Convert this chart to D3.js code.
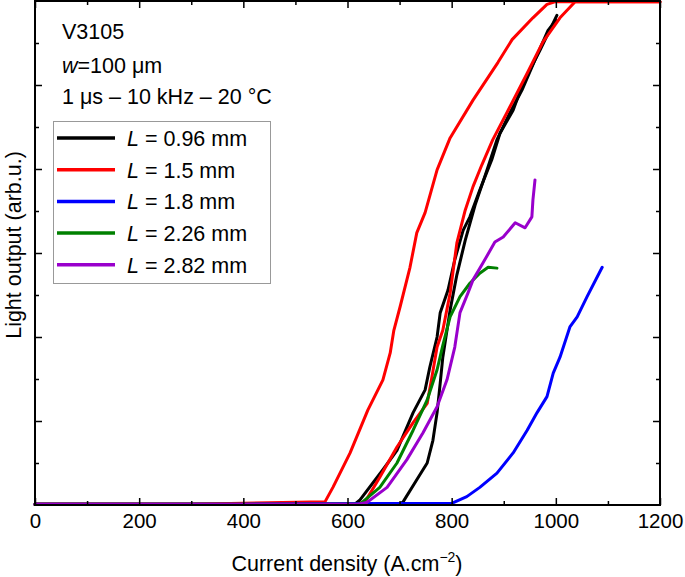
<!DOCTYPE html>
<html>
<head>
<meta charset="utf-8">
<script src="https://cdn.jsdelivr.net/npm/d3@7"></script>
<style>
  body { margin: 0; background: #fff; }
  text { font-family: "Liberation Sans", Arial, sans-serif; fill: #000; }
</style>
</head>
<body>
<div class="chart-area"></div>
<script>
// current density (A.cm-2) and light output (arb.u.)
var jBlackA = [0, 300, 600, 701, 707, 733, 753, 764, 772, 778, 783, 789, 797, 810, 826, 845, 868, 887, 912, 935, 960, 985, 1000];
var lBlackA = [0.01, 0.01, 0.01, 0.01, 0.04, 0.30, 0.50, 0.77, 1.10, 1.45, 1.76, 2.00, 2.32, 2.74, 3.15, 3.57, 3.99, 4.35, 4.67, 4.94, 5.30, 5.65, 5.77];

var jBlackB = [0, 300, 614, 624, 668, 695, 726, 749, 758, 772, 778, 793, 806, 822, 835, 854, 877, 893, 918, 937, 970, 995, 1002];
var lBlackB = [0.01, 0.01, 0.01, 0.06, 0.42, 0.65, 1.10, 1.37, 1.64, 2.00, 2.29, 2.56, 2.92, 3.27, 3.43, 3.75, 4.11, 4.43, 4.70, 5.02, 5.42, 5.74, 5.83];

var jRedA = [0, 300, 557, 572, 605, 639, 668, 682, 689, 701, 720, 733, 749, 772, 797, 841, 889, 916, 956, 983, 998, 1200];
var lRedA = [0.01, 0.01, 0.04, 0.21, 0.62, 1.13, 1.49, 1.81, 2.08, 2.36, 2.83, 3.24, 3.48, 3.99, 4.37, 4.82, 5.27, 5.54, 5.80, 5.96, 5.99, 5.99];

var jRedB = [0, 300, 620, 634, 662, 695, 726, 753, 762, 772, 783, 797, 810, 826, 841, 858, 879, 906, 945, 975, 1008, 1037, 1200];
var lRedB = [0.01, 0.01, 0.01, 0.04, 0.33, 0.69, 0.98, 1.21, 1.52, 1.88, 2.08, 2.52, 3.12, 3.51, 3.79, 4.05, 4.35, 4.67, 5.14, 5.51, 5.80, 5.99, 5.99];

var jBlue = [0, 400, 800, 829, 854, 887, 918, 945, 964, 983, 995, 1008, 1027, 1041, 1060, 1089];
var lBlue = [0.01, 0.01, 0.02, 0.10, 0.21, 0.38, 0.62, 0.89, 1.10, 1.29, 1.57, 1.76, 2.12, 2.24, 2.48, 2.83];

var jGreen = [0, 300, 624, 662, 695, 726, 753, 772, 783, 797, 816, 835, 854, 870, 887];
var lGreen = [0.01, 0.01, 0.01, 0.21, 0.50, 0.89, 1.25, 1.61, 1.90, 2.24, 2.48, 2.64, 2.76, 2.83, 2.82];

var jPurple = [0, 300, 620, 637, 676, 714, 745, 772, 791, 806, 816, 831, 841, 860, 883, 899, 922, 941, 954, 956, 960];
var lPurple = [0.01, 0.01, 0.01, 0.03, 0.21, 0.54, 0.86, 1.17, 1.49, 1.88, 2.29, 2.52, 2.68, 2.88, 3.13, 3.19, 3.36, 3.30, 3.43, 3.63, 3.87];

var legendNames = ["0.96", "1.5", "1.8", "2.26", "2.82"];
var legendColors = ["#000000", "#ff0000", "#0000ff", "#008000", "#9900cc"];
var xTicks = [0, 200, 400, 600, 800, 1000, 1200];

var svg = d3.select(".chart-area").append("svg")
    .attr("width", 685)
    .attr("height", 577);

var x = d3.scaleLinear().domain([0, 1200]).range([35, 660]);
var y = d3.scaleLinear().domain([0, 6]).range([505, 1]);

function zip(xs, ys) {
    return xs.map(function(d, i) { return [d, ys[i]]; });
}

var series = [
    {pts: zip(jBlackA, lBlackA), color: legendColors[0]},
    {pts: zip(jBlackB, lBlackB), color: legendColors[0]},
    {pts: zip(jRedA, lRedA), color: legendColors[1]},
    {pts: zip(jRedB, lRedB), color: legendColors[1]},
    {pts: zip(jBlue, lBlue), color: legendColors[2]},
    {pts: zip(jGreen, lGreen), color: legendColors[3]},
    {pts: zip(jPurple, lPurple), color: legendColors[4]}
];

var line = d3.line()
    .x(function(d) { return x(d[0]); })
    .y(function(d) { return y(d[1]); });

svg.selectAll("path.curve")
    .data(series)
    .enter()
    .append("path")
    .attr("class", "curve")
    .attr("fill", "none")
    .attr("stroke", function(d) { return d.color; })
    .attr("stroke-width", 3)
    .attr("stroke-linejoin", "round")
    .attr("stroke-linecap", "round")
    .attr("d", function(d) { return line(d.pts); });

// axes, ticks pointing inward
function styleAxis(g) {
    g.select(".domain").remove();
    g.selectAll("line").attr("stroke", "#000").attr("stroke-width", 1.5);
    g.selectAll("text").attr("font-size", 20.5).attr("fill", "#000")
        .attr("font-family", "Liberation Sans, Arial, sans-serif");
}

svg.append("g")
    .attr("transform", "translate(0,505)")
    .call(d3.axisBottom(x).tickValues(xTicks).tickSize(-7).tickPadding(8).tickFormat(d3.format("d")))
    .call(styleAxis);
svg.append("g")
    .attr("transform", "translate(0,505)")
    .call(d3.axisBottom(x).tickValues(d3.range(100, 1200, 200)).tickSize(-4).tickFormat(""))
    .call(styleAxis);
svg.append("g")
    .attr("transform", "translate(0,1)")
    .call(d3.axisTop(x).tickValues(xTicks).tickSize(-7).tickFormat(""))
    .call(styleAxis);
svg.append("g")
    .attr("transform", "translate(0,1)")
    .call(d3.axisTop(x).tickValues(d3.range(100, 1200, 200)).tickSize(-4).tickFormat(""))
    .call(styleAxis);
svg.append("g")
    .attr("transform", "translate(35,0)")
    .call(d3.axisLeft(y).tickValues(d3.range(1, 6)).tickSize(-7).tickFormat(""))
    .call(styleAxis);
svg.append("g")
    .attr("transform", "translate(35,0)")
    .call(d3.axisLeft(y).tickValues(d3.range(0.5, 6, 1)).tickSize(-4).tickFormat(""))
    .call(styleAxis);
svg.append("g")
    .attr("transform", "translate(660,0)")
    .call(d3.axisRight(y).tickValues(d3.range(1, 6)).tickSize(-7).tickFormat(""))
    .call(styleAxis);
svg.append("g")
    .attr("transform", "translate(660,0)")
    .call(d3.axisRight(y).tickValues(d3.range(0.5, 6, 1)).tickSize(-4).tickFormat(""))
    .call(styleAxis);

// frame
svg.append("rect")
    .attr("x", 35)
    .attr("y", 1)
    .attr("width", 625)
    .attr("height", 504)
    .attr("fill", "none")
    .attr("stroke", "#000")
    .attr("stroke-width", 2);

// axis titles
var xTitle = svg.append("text")
    .attr("x", 347)
    .attr("y", 571)
    .attr("text-anchor", "middle")
    .attr("font-size", 21.5)
    .text("Current density (A.cm");
xTitle.append("tspan").attr("dy", -9).attr("font-size", 14).text("\u22122");
xTitle.append("tspan").attr("dy", 9).text(")");

svg.append("text")
    .attr("transform", "translate(21,245) rotate(-90)")
    .attr("text-anchor", "middle")
    .attr("font-size", 21.5)
    .text("Light output (arb.u.)");

// annotations
svg.append("text").attr("x", 62).attr("y", 39).attr("font-size", 21.5).text("V3105");
var wt = svg.append("text").attr("x", 62).attr("y", 73).attr("font-size", 21.5);
wt.append("tspan").attr("font-style", "italic").text("w");
wt.append("tspan").text("=100 \u03bcm");
svg.append("text").attr("x", 62).attr("y", 104).attr("font-size", 21.5)
    .text("1 \u03bcs \u2013 10 kHz \u2013 20 \u00b0C");

// legend
svg.append("rect")
    .attr("x", 53.5)
    .attr("y", 121.5)
    .attr("width", 217)
    .attr("height", 162)
    .attr("fill", "#fff")
    .attr("stroke", "#999")
    .attr("stroke-width", 1);

var legend = svg.selectAll("g.legend")
    .data(legendNames)
    .enter()
    .append("g")
    .attr("class", "legend")
    .attr("transform", function(d, i) { return "translate(0," + (138 + i * 31.7) + ")"; });

legend.append("line")
    .attr("x1", 57)
    .attr("x2", 115)
    .attr("stroke", function(d, i) { return legendColors[i]; })
    .attr("stroke-width", 3.5);

var lt = legend.append("text")
    .attr("x", 127)
    .attr("y", 8)
    .attr("font-size", 21.5);
lt.append("tspan").attr("font-style", "italic").text("L");
lt.append("tspan").text(function(d) { return " = " + d + " mm"; });
</script>
</body>
</html>
